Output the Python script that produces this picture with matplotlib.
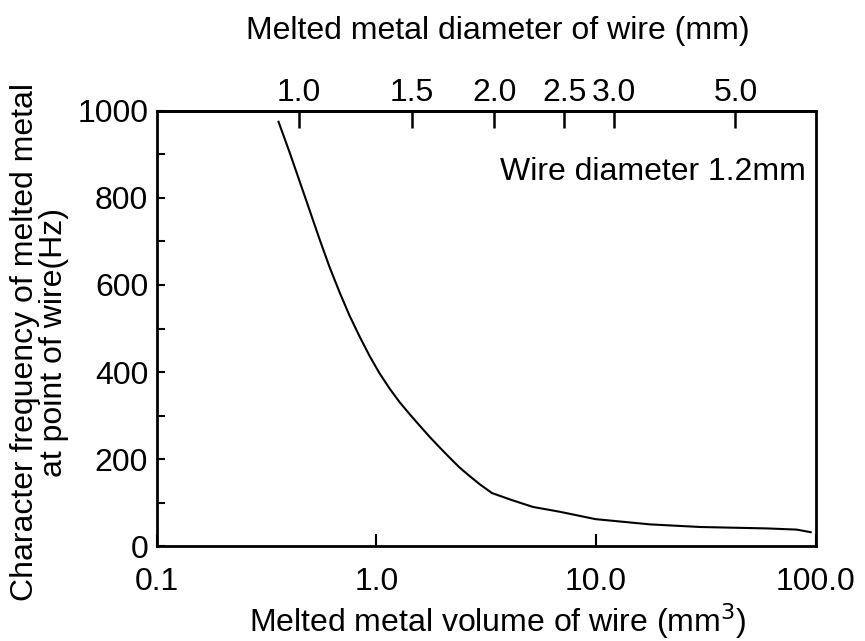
import matplotlib.pyplot as plt
from matplotlib.ticker import FixedLocator, NullLocator, MultipleLocator

plt.rcParams['font.family'] = ['Liberation Sans', 'DejaVu Sans']

# curve
volume = [0.359, 0.403, 0.448, 0.497, 0.552, 0.612, 0.681, 0.755, 0.839, 0.932,
          1.035, 1.15, 1.276, 1.42, 1.575, 1.75, 1.95, 2.16, 2.39, 2.66, 2.96,
          3.36, 4.13, 5.17, 6.84, 9.95, 17.6, 29.7, 59.8, 81.9, 94.9]
frequency = [975, 905, 838, 772, 705, 642, 583, 530, 482, 437,
             397, 362, 331, 303, 277, 251, 226, 203, 181, 161, 142,
             122, 106, 90, 79, 62, 50, 44, 40.7, 38, 32]

# top axis: melted diameter ticks placed at their volumes
diam_pos = [0.444, 1.45, 3.44, 7.16, 12.08, 43.1]
diam_labels = ['1.0', '1.5', '2.0', '2.5', '3.0', '5.0']

bottom_ticks = [0.1, 1.0, 10.0, 100.0]
bottom_labels = ['0.1', '1.0', '10.0', '100.0']

fig = plt.figure(figsize=(8.65, 6.41), dpi=100)
ax = fig.add_axes([0.181, 0.148, 0.762, 0.679])

ax.plot(volume, frequency, color='black', lw=1.5)
ax.set_xscale('log')
ax.set_xlim(0.1, 100)
ax.set_ylim(0, 1000)

ax.xaxis.set_major_locator(FixedLocator(bottom_ticks))
ax.xaxis.set_minor_locator(NullLocator())
ax.set_xticklabels(bottom_labels)
ax.yaxis.set_major_locator(MultipleLocator(200))
ax.yaxis.set_minor_locator(MultipleLocator(100))

ax.tick_params(axis='both', which='both', direction='in', labelsize=23, width=1.5)
ax.tick_params(axis='x', which='major', length=9, pad=15)
ax.tick_params(axis='y', which='both', length=6, pad=6)

for s in ax.spines.values():
    s.set_linewidth(2)

top = ax.secondary_xaxis('top')
top.xaxis.set_major_locator(FixedLocator(diam_pos))
top.xaxis.set_minor_locator(NullLocator())
top.set_xticklabels(diam_labels)
top.tick_params(direction='in', length=12, width=1.8, labelsize=23, pad=2)
top.spines['top'].set_linewidth(2)
top.set_xlabel('Melted metal diameter of wire (mm)', fontsize=23, labelpad=28)
top.xaxis.label.set_x(0.518)

ax.set_xlabel('Melted metal volume of wire (mm$^3$)', fontsize=23, labelpad=3)
ax.xaxis.label.set_x(0.518)
ax.set_ylabel('Character frequency of melted metal\nat point of wire(Hz)', fontsize=23,
              linespacing=0.95)
ax.yaxis.set_label_coords(-0.133, 0.468)

ax.text(0.985, 0.86, 'Wire diameter 1.2mm', transform=ax.transAxes,
        ha='right', va='center', fontsize=23)

fig.savefig('out.png', dpi=100)
